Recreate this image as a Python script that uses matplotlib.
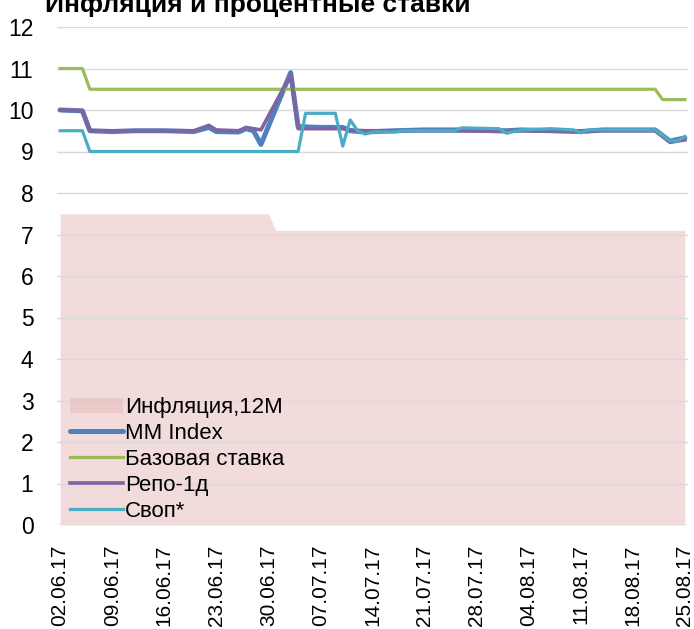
import pandas as pd
import matplotlib
matplotlib.use("Agg")
import matplotlib.pyplot as plt
import matplotlib.dates as mdates

# --- данные ---
infl_dates = ["2017-06-02", "2017-06-30", "2017-07-01", "2017-08-25"]
infl_vals = [7.5, 7.5, 7.1, 7.1]

base_dates = ["2017-06-02", "2017-06-05", "2017-06-06", "2017-08-21", "2017-08-22", "2017-08-25"]
base_vals = [11.0, 11.0, 10.5, 10.5, 10.25, 10.25]

mm_dates = ["2017-06-02", "2017-06-05", "2017-06-06", "2017-06-09", "2017-06-12", "2017-06-16",
            "2017-06-20", "2017-06-22", "2017-06-23", "2017-06-26", "2017-06-27", "2017-06-28",
            "2017-06-29", "2017-07-03", "2017-07-04", "2017-07-07", "2017-07-10", "2017-07-11",
            "2017-07-13", "2017-07-17", "2017-07-21", "2017-07-25", "2017-08-01", "2017-08-03",
            "2017-08-11", "2017-08-14", "2017-08-21", "2017-08-23", "2017-08-25"]
mm_vals = [10.0, 9.98, 9.5, 9.48, 9.5, 9.5,
           9.48, 9.58, 9.48, 9.47, 9.55, 9.5,
           9.17, 10.9, 9.6, 9.58, 9.58, 9.5,
           9.47, 9.5, 9.52, 9.52, 9.5, 9.52,
           9.48, 9.52, 9.52, 9.25, 9.33]

repo_dates = ["2017-06-02", "2017-06-05", "2017-06-06", "2017-06-09", "2017-06-12", "2017-06-16",
              "2017-06-20", "2017-06-22", "2017-06-23", "2017-06-26", "2017-06-27", "2017-06-28",
              "2017-06-29", "2017-07-03", "2017-07-04", "2017-07-07", "2017-07-10", "2017-07-11",
              "2017-07-13", "2017-07-17", "2017-07-21", "2017-07-25", "2017-08-01", "2017-08-03",
              "2017-08-11", "2017-08-14", "2017-08-21", "2017-08-23", "2017-08-25"]
repo_vals = [10.0, 9.98, 9.5, 9.5, 9.5, 9.5,
             9.5, 9.63, 9.52, 9.5, 9.58, 9.55,
             9.52, 10.85, 9.55, 9.55, 9.55, 9.52,
             9.5, 9.5, 9.5, 9.5, 9.48, 9.5,
             9.48, 9.5, 9.5, 9.22, 9.28]

swap_dates = ["2017-06-02", "2017-06-05", "2017-06-06", "2017-07-04", "2017-07-05", "2017-07-09",
              "2017-07-10", "2017-07-11", "2017-07-12", "2017-07-13", "2017-07-14", "2017-07-17",
              "2017-07-18", "2017-07-25", "2017-07-26", "2017-07-31", "2017-08-01", "2017-08-03",
              "2017-08-07", "2017-08-10", "2017-08-11", "2017-08-12", "2017-08-21", "2017-08-23",
              "2017-08-24", "2017-08-25"]
swap_vals = [9.5, 9.5, 9.0, 9.0, 9.92, 9.92,
             9.13, 9.76, 9.5, 9.42, 9.47, 9.47,
             9.5, 9.5, 9.57, 9.55, 9.44, 9.52,
             9.55, 9.52, 9.45, 9.52, 9.52, 9.25,
             9.26, 9.36]

tick_dates = pd.date_range("2017-06-02", "2017-08-25", freq="7D")

plt.rcParams['font.family'] = ['Liberation Sans', 'DejaVu Sans']

fig = plt.figure(figsize=(6.94, 6.29), dpi=100)
ax = fig.add_axes([57 / 694, 1 - 525 / 629, 631 / 694, 498 / 629])

# полупрозрачная заливка: на белом даёт #F2DCDB, значок легенды поверх неё темнее
ax.fill_between(pd.to_datetime(infl_dates), infl_vals, 0, color='#E6B9B8', alpha=0.5, lw=0,
                zorder=0.2, label='Инфляция,12M')
ax.plot(pd.to_datetime(mm_dates), mm_vals, color='#4F81BD', lw=3.6, label='MM Index',
        solid_capstyle='round', solid_joinstyle='round')
ax.plot(pd.to_datetime(base_dates), base_vals, color='#9BBB59', lw=2.3, label='Базовая ставка')
ax.plot(pd.to_datetime(repo_dates), repo_vals, color='#8064A2', lw=2.6, label='Репо-1д',
        solid_joinstyle='round')
ax.plot(pd.to_datetime(swap_dates), swap_vals, color='#4BACC6', lw=2.3, label='Своп*')

ax.set_ylim(0, 12)
ax.set_yticks(range(0, 13))
ax.set_xlim(pd.Timestamp("2017-06-02") - pd.Timedelta(hours=10),
            pd.Timestamp("2017-08-25") + pd.Timedelta(hours=10))
ax.set_xticks(tick_dates)
ax.xaxis.set_major_formatter(mdates.DateFormatter('%d.%m.%y'))

ax.set_axisbelow(True)
ax.grid(axis='y', color='#D9D9D9', lw=1)
for s in ax.spines.values():
    s.set_visible(False)
ax.tick_params(axis='both', length=0, labelsize=15)
ax.tick_params(axis='y', pad=17, labelsize=16.5)
ax.tick_params(axis='x', pad=14, rotation=90)

leg = ax.legend(loc='lower left', bbox_to_anchor=(0.0, -0.02), frameon=False, fontsize=16,
                handlelength=2.35, handletextpad=0.12, labelspacing=0.22, borderaxespad=0.2)

fig.text(45 / 694, 1 - 12 / 629, 'Инфляция и процентные ставки', fontsize=19,
         fontweight='bold', va='baseline')

fig.savefig('out.png', dpi=100)
